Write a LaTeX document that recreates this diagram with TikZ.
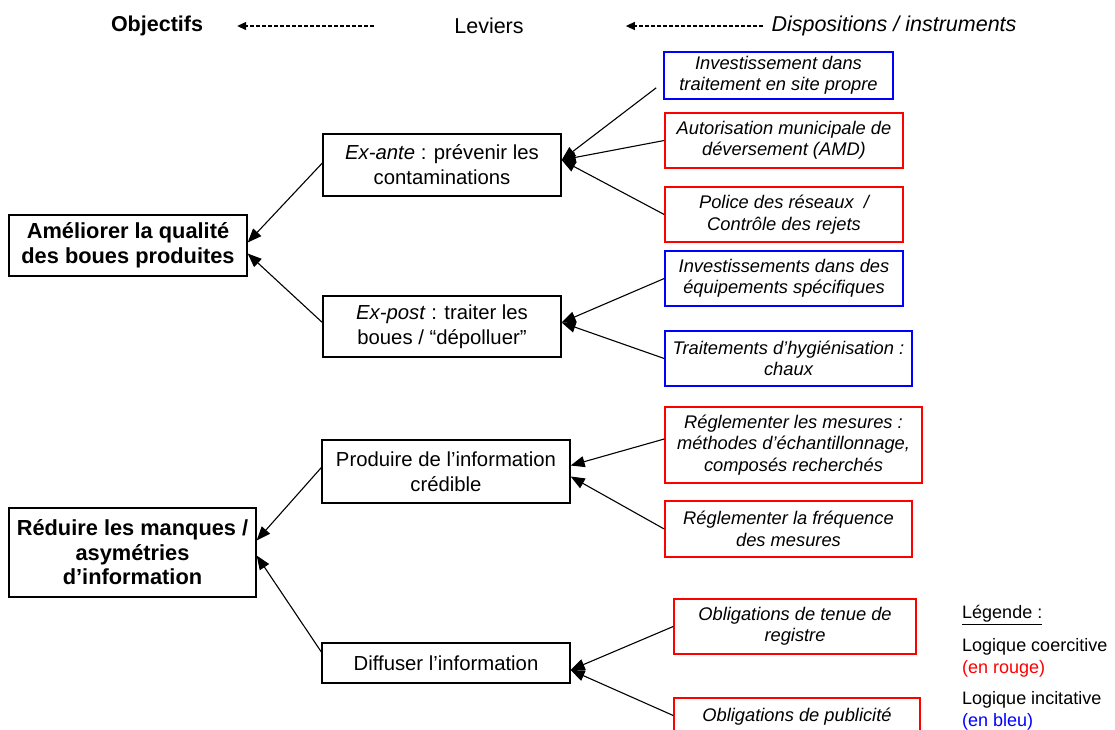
\documentclass[tikz,border=0pt]{standalone}
\usepackage{fontspec}
\setmainfont{Liberation Sans}
\usetikzlibrary{arrows.meta}

\begin{document}
\begin{tikzpicture}[x=1pt, y=-1pt,
    obj/.style={draw, line width=1.3pt, align=center, inner sep=0pt,
        font=\fontsize{21.8}{24.5}\selectfont\bfseries},
    lev/.style={draw, line width=1.3pt, align=center, inner sep=0pt,
        font=\fontsize{20.3}{25}\selectfont},
    disp/.style={draw, line width=1.6pt, align=center, inner sep=0pt,
        font=\fontsize{18.3}{21.5}\selectfont\itshape},
    coer/.style={disp, draw=red},
    inci/.style={disp, draw=blue},
    fl/.style={line width=1.1pt, -{Triangle[length=14pt,width=11pt]}},
    hdr/.style={line width=1.3pt, dash pattern=on 4pt off 2pt, -{Triangle[length=9pt,width=8pt]}}]
    \useasboundingbox (0,0) rectangle (1115,729);
    \clip (0,0) rectangle (1115,729);
    % en-tete
    \node[font=\fontsize{21.5}{24}\selectfont\bfseries, inner sep=0pt] (tObj) at (157,26) {Objectifs};
    \node[font=\fontsize{21.5}{24}\selectfont, inner sep=0pt] (tLev) at (489,26) {Leviers};
    \node[font=\fontsize{21.5}{24}\selectfont\itshape, inner sep=0pt] (tDisp) at (894,26) {Dispositions / instruments};
    \draw[hdr, shorten <=80pt, shorten >=34pt] (tLev.west) -- (tObj.east);
    \draw[hdr, shorten <=8pt, shorten >=102pt] (tDisp.west) -- (tLev.east);
    % objectifs
    \node[obj, minimum width=238pt, minimum height=61pt] (ObjA) at (128,245.5) {Améliorer la qualité\\des boues produites};
    \node[obj, minimum width=247pt, minimum height=89pt] (ObjB) at (132.5,552.5) {Réduire les manques /\\asymétries\\d’information};
    % leviers
    \node[lev, minimum width=238pt, minimum height=62pt] (LevA) at (442,165) {\textit{Ex-ante} : prévenir les\\contaminations};
    \node[lev, minimum width=238pt, minimum height=61pt] (LevB) at (442,326.5) {\textit{Ex-post} : traiter les\\boues / “dépolluer”};
    \node[lev, minimum width=248pt, minimum height=63pt] (LevC) at (446,471.5) {Produire de l’information\\crédible};
    \node[lev, minimum width=248pt, minimum height=40pt] (LevD) at (446,663) {Diffuser l’information};
    % dispositions / instruments
    \node[inci, minimum width=229pt, minimum height=47pt] (DispA) at (778.5,75.5) {Investissement dans\\traitement en site propre};
    \node[coer, minimum width=238pt, minimum height=55pt] (DispB) at (784,140.5) {Autorisation municipale de\\déversement (AMD)};
    \node[coer, minimum width=238pt, minimum height=55pt] (DispC) at (784,214.5) {Police des réseaux~~/\\Contrôle des rejets};
    \node[inci, minimum width=238pt, minimum height=55pt] (DispD) at (784,278.5) {Investissements dans des\\équipements spécifiques};
    \node[inci, minimum width=247pt, minimum height=55pt] (DispE) at (788.5,358.5) {Traitements d’hygiénisation :\\chaux};
    \node[coer, minimum width=257pt, minimum height=76pt] (DispF) at (793.5,445) {Réglementer les mesures :\\méthodes d’échantillonnage,\\composés recherchés};
    \node[coer, minimum width=247pt, minimum height=56pt] (DispG) at (788.5,529) {Réglementer la fréquence\\des mesures};
    \node[coer, minimum width=242pt, minimum height=55pt] (DispH) at (795,626.5) {Obligations de tenue de\\registre};
    \node[coer, minimum width=246pt, minimum height=55pt, text depth=22pt] (DispI) at (797,725.5) {Obligations de publicité};
    % legende
    \node[anchor=west, inner sep=0pt, font=\fontsize{18}{22}\selectfont] (legT) at (962,615) {\underline{Légende :}};
    \node[anchor=north west, inner sep=0pt, align=left, font=\fontsize{18}{22}\selectfont] (legA) at (962,638) {Logique coercitive\\\textcolor{red}{(en rouge)}};
    \node[anchor=north west, inner sep=0pt, align=left, font=\fontsize{18}{22}\selectfont] (legB) at (962,691) {Logique incitative\\\textcolor{blue}{(en bleu)}};
    % fleches
    \coordinate (dA) at ([shift={(-7,-12)}]DispA.south west);
    \draw[fl] (dA) -- ([yshift=5pt]LevA.east);
    \draw[fl] (DispB.west) -- ([yshift=5pt]LevA.east);
    \draw[fl] (DispC.west) -- ([yshift=5pt]LevA.east);
    \draw[fl] (DispD.west) -- ([yshift=4pt]LevB.east);
    \draw[fl] (DispE.west) -- ([yshift=4pt]LevB.east);
    \draw[fl] ([yshift=6pt]DispF.west) -- ([yshift=6pt]LevC.east);
    \draw[fl] (DispG.west) -- ([yshift=-5pt]LevC.east);
    \draw[fl] (DispH.west) -- ([yshift=-7pt]LevD.east);
    \draw[fl] ([yshift=10pt]DispI.west) -- ([yshift=-7pt]LevD.east);
    \draw[fl] ([yshift=2pt]LevA.west) -- ([yshift=3pt]ObjA.east);
    \draw[fl] ([yshift=4pt]LevB.west) -- ([yshift=-8pt]ObjA.east);
    \draw[fl] ([yshift=4pt]LevC.west) -- ([yshift=12pt]ObjB.east);
    \draw[fl] ([yshift=11pt]LevD.west) -- ([yshift=-3pt]ObjB.east);
\end{tikzpicture}
\end{document}
